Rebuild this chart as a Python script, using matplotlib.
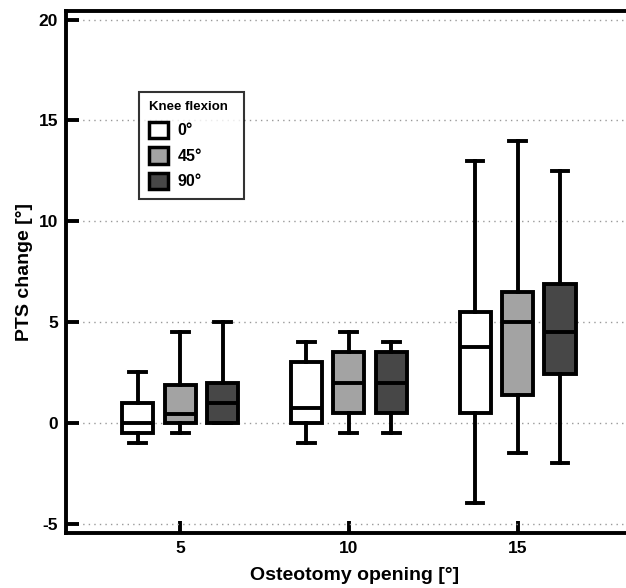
import numpy as np
import matplotlib.pyplot as plt
from matplotlib.patches import Patch

plt.rcParams['font.family'] = ['Liberation Sans', 'DejaVu Sans']
plt.rcParams['font.weight'] = 'bold'
plt.rcParams['axes.unicode_minus'] = False

openings = [5, 10, 15]
flexion = ["0°", "45°", "90°"]
colors = ["#ffffff", "#a3a3a3", "#474747"]

# per flexion angle: values for openings 5, 10, 15
whis_lo = {"0°": [-1.0, -1.0, -4.0], "45°": [-0.5, -0.5, -1.5], "90°": [0.0, -0.5, -2.0]}
q1 = {"0°": [-0.5, 0.0, 0.5], "45°": [0.0, 0.5, 1.4], "90°": [0.0, 0.5, 2.4]}
med = {"0°": [0.0, 0.75, 3.75], "45°": [0.45, 2.0, 5.0], "90°": [1.0, 2.0, 4.5]}
q3 = {"0°": [1.0, 3.0, 5.5], "45°": [1.9, 3.5, 6.5], "90°": [2.0, 3.5, 6.9]}
whis_hi = {"0°": [2.5, 4.0, 13.0], "45°": [4.5, 4.5, 14.0], "90°": [5.0, 4.0, 12.5]}

fig = plt.figure(figsize=(6.26, 5.88), dpi=100)
ax = fig.add_axes([0.106, 0.094, 0.92, 0.888])

offsets = [-1.26, 0, 1.26]
lw = 2.8
for k, f in enumerate(flexion):
    stats = []
    for i in range(len(openings)):
        stats.append({"med": med[f][i], "q1": q1[f][i], "q3": q3[f][i],
                      "whislo": whis_lo[f][i], "whishi": whis_hi[f][i], "fliers": []})
    pos = [o + offsets[k] for o in openings]
    ax.bxp(stats, positions=pos, widths=0.92, patch_artist=True, showfliers=False,
           boxprops=dict(facecolor=colors[k], edgecolor="black", linewidth=lw),
           medianprops=dict(color="black", linewidth=lw),
           whiskerprops=dict(color="black", linewidth=lw),
           capprops=dict(color="black", linewidth=lw), capwidths=0.5,
           manage_ticks=False, zorder=3)

ax.set_xlim(1.62, 18.7)
ax.set_ylim(-5.45, 20.45)
ax.set_xticks(openings)
ax.set_yticks([-5, 0, 5, 10, 15, 20])
ax.yaxis.grid(True, linestyle=(0, (1, 3)), color="#999999", linewidth=1)
ax.set_axisbelow(True)
ax.tick_params(direction="in", length=9, width=2.8, labelsize=12.5, pad=6)
for s in ["left", "bottom", "top"]:
    ax.spines[s].set_linewidth(2.8)
ax.spines["right"].set_visible(False)
ax.set_xlabel("Osteotomy opening [°]", fontsize=14, fontweight="bold", labelpad=8)
ax.set_ylabel("PTS change [°]", fontsize=14, fontweight="bold", labelpad=4)

handles = [Patch(facecolor=c, edgecolor="black", linewidth=2.5) for c in colors]
leg = ax.legend(handles, flexion, title="Knee flexion", loc="upper left",
                bbox_to_anchor=(0.127, 0.845, 0.181, 0.0), mode="expand",
                fontsize=11.5, title_fontsize=9.5,
                handlelength=1.2, handleheight=1.2, frameon=True, fancybox=False,
                edgecolor="black", borderpad=0.6, labelspacing=0.55, handletextpad=0.6,
                borderaxespad=0, alignment="left")
leg.get_frame().set_linewidth(1.5)
leg.get_title().set_fontweight("bold")

fig.savefig("out.png", dpi=100)
